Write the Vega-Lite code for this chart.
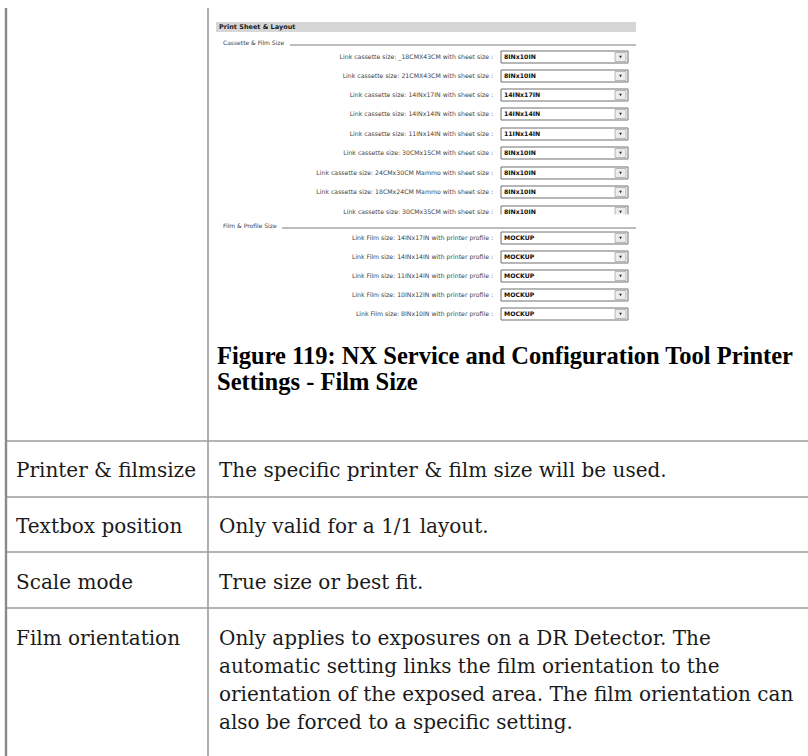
{
  "$schema": "https://vega.github.io/schema/vega-lite/v6.json",
  "width": 808,
  "height": 756,
  "padding": 0,
  "autosize": "none",
  "background": "white",
  "config": {"view": {"stroke": null}},
  "datasets": {
    "tableRules": [
      {"x": 208, "y": 8, "x2": 208, "y2": 756},
      {"x": 6, "y": 441, "x2": 808, "y2": 441},
      {"x": 6, "y": 497, "x2": 808, "y2": 497},
      {"x": 6, "y": 552, "x2": 808, "y2": 552},
      {"x": 6, "y": 608, "x2": 808, "y2": 608}
    ],
    "border": [{"x": 6, "y": 8, "x2": 6, "y2": 756}],
    "header": [{"x": 216, "y": 22, "x2": 636, "y2": 32, "label": "Print Sheet & Layout", "tx": 219, "ty": 27}],
    "groups": [
      {"label": "Cassette & Film Size", "tx": 223, "ty": 43, "x": 290, "x2": 636, "y": 45},
      {"label": "Film & Profile Size", "tx": 223, "ty": 226, "x": 282, "x2": 636, "y": 228}
    ],
    "links": [
      {"label": "Link cassette size: _18CMX43CM with sheet size :", "value": "8INx10IN", "y": 57},
      {"label": "Link cassette size: 21CMX43CM with sheet size :", "value": "8INx10IN", "y": 76},
      {"label": "Link cassette size: 14INx17IN with sheet size :", "value": "14INx17IN", "y": 95},
      {"label": "Link cassette size: 14INx14IN with sheet size :", "value": "14INx14IN", "y": 114},
      {"label": "Link cassette size: 11INx14IN with sheet size :", "value": "11INx14IN", "y": 134},
      {"label": "Link cassette size: 30CMx15CM with sheet size :", "value": "8INx10IN", "y": 153},
      {"label": "Link cassette size: 24CMx30CM Mammo with sheet size :", "value": "8INx10IN", "y": 173},
      {"label": "Link cassette size: 18CMx24CM Mammo with sheet size :", "value": "8INx10IN", "y": 192},
      {"label": "Link cassette size: 30CMx35CM with sheet size :", "value": "8INx10IN", "y": 212},
      {"label": "Link Film size: 14INx17IN with printer profile :", "value": "MOCKUP", "y": 238},
      {"label": "Link Film size: 14INx14IN with printer profile :", "value": "MOCKUP", "y": 257},
      {"label": "Link Film size: 11INx14IN with printer profile :", "value": "MOCKUP", "y": 276},
      {"label": "Link Film size: 10INx12IN with printer profile :", "value": "MOCKUP", "y": 295},
      {"label": "Link Film size: 8INx10IN with printer profile :", "value": "MOCKUP", "y": 314}
    ],
    "mask": [{"x": 214, "x2": 640, "y": 214.5, "y2": 222}],
    "caption": [
      {"text": "Figure 119: NX Service and Configuration Tool Printer", "x": 217, "y": 364},
      {"text": "Settings - Film Size", "x": 217, "y": 390}
    ],
    "cells": [
      {"text": "Printer & filmsize", "x": 16, "y": 477},
      {"text": "Textbox position", "x": 16, "y": 533},
      {"text": "Scale mode", "x": 16, "y": 589},
      {"text": "Film orientation", "x": 16, "y": 645},
      {"text": "The specific printer & film size will be used.", "x": 219, "y": 477},
      {"text": "Only valid for a 1/1 layout.", "x": 219, "y": 533},
      {"text": "True size or best fit.", "x": 219, "y": 589},
      {"text": "Only applies to exposures on a DR Detector. The", "x": 219, "y": 645},
      {"text": "automatic setting links the film orientation to the", "x": 219, "y": 673},
      {"text": "orientation of the exposed area. The film orientation can", "x": 219, "y": 701},
      {"text": "also be forced to a specific setting.", "x": 219, "y": 729}
    ]
  },
  "layer": [
    {
      "data": {"name": "tableRules"},
      "mark": {"type": "rule", "color": "#9c9c9c", "strokeWidth": 1.6},
      "encoding": {
        "x": {"field": "x", "type": "quantitative", "scale": {"domain": [0, 808], "range": [0, 808], "nice": false, "zero": false}, "axis": null},
        "y": {"field": "y", "type": "quantitative", "scale": {"domain": [0, 756], "range": [0, 756], "nice": false, "zero": false}, "axis": null},
        "x2": {"field": "x2"},
        "y2": {"field": "y2"}
      }
    },
    {
      "data": {"name": "border"},
      "mark": {"type": "rule", "color": "#8a8a8a", "strokeWidth": 2.4},
      "encoding": {
        "x": {"field": "x", "type": "quantitative"},
        "y": {"field": "y", "type": "quantitative"},
        "x2": {"field": "x2"},
        "y2": {"field": "y2"}
      }
    },
    {
      "data": {"name": "header"},
      "mark": {"type": "rect", "fill": "#d6d6d6"},
      "encoding": {
        "x": {"field": "x", "type": "quantitative"},
        "y": {"field": "y", "type": "quantitative"},
        "x2": {"field": "x2"},
        "y2": {"field": "y2"}
      }
    },
    {
      "data": {"name": "header"},
      "mark": {"type": "text", "align": "left", "baseline": "middle", "font": "DejaVu Sans", "fontSize": 6.5, "fontWeight": "bold", "color": "#1a1a1a"},
      "encoding": {
        "x": {"field": "tx", "type": "quantitative"},
        "y": {"field": "ty", "type": "quantitative"},
        "text": {"field": "label"}
      }
    },
    {
      "data": {"name": "groups"},
      "mark": {"type": "rule", "color": "#7a7a7a", "strokeWidth": 1},
      "encoding": {
        "x": {"field": "x", "type": "quantitative"},
        "x2": {"field": "x2"},
        "y": {"field": "y", "type": "quantitative"}
      }
    },
    {
      "data": {"name": "groups"},
      "mark": {"type": "text", "align": "left", "baseline": "middle", "font": "DejaVu Sans", "fontSize": 6, "color": "#444"},
      "encoding": {
        "x": {"field": "tx", "type": "quantitative"},
        "y": {"field": "ty", "type": "quantitative"},
        "text": {"field": "label"}
      }
    },
    {
      "data": {"name": "links"},
      "mark": {"type": "text", "align": "right", "baseline": "middle", "font": "DejaVu Sans", "fontSize": 6.2, "color": "#444", "x": 493},
      "encoding": {
        "y": {"field": "y", "type": "quantitative"},
        "text": {"field": "label"}
      }
    },
    {
      "data": {"name": "links"},
      "mark": {"type": "rect", "fill": "white", "stroke": "#6f6f6f", "strokeWidth": 1, "x": 501, "x2": 628, "height": 12},
      "encoding": {
        "y": {"field": "y", "type": "quantitative"}
      }
    },
    {
      "data": {"name": "links"},
      "mark": {"type": "rect", "fill": "#ececec", "stroke": "#a8a8a8", "strokeWidth": 0.8, "x": 615, "x2": 626, "height": 9},
      "encoding": {
        "y": {"field": "y", "type": "quantitative"}
      }
    },
    {
      "data": {"name": "links"},
      "mark": {"type": "point", "shape": "triangle-down", "filled": true, "size": 8, "color": "#222", "opacity": 1, "x": 620.5},
      "encoding": {
        "y": {"field": "y", "type": "quantitative"}
      }
    },
    {
      "data": {"name": "links"},
      "mark": {"type": "text", "align": "left", "baseline": "middle", "font": "DejaVu Sans", "fontSize": 6.2, "fontWeight": "bold", "color": "#111", "x": 504},
      "encoding": {
        "y": {"field": "y", "type": "quantitative"},
        "text": {"field": "value"}
      }
    },
    {
      "data": {"name": "mask"},
      "mark": {"type": "rect", "fill": "white"},
      "encoding": {
        "x": {"field": "x", "type": "quantitative"},
        "x2": {"field": "x2"},
        "y": {"field": "y", "type": "quantitative"},
        "y2": {"field": "y2"}
      }
    },
    {
      "data": {"name": "caption"},
      "mark": {"type": "text", "align": "left", "baseline": "alphabetic", "font": "Liberation Serif", "fontSize": 24.5, "fontWeight": "bold", "color": "#000"},
      "encoding": {
        "x": {"field": "x", "type": "quantitative"},
        "y": {"field": "y", "type": "quantitative"},
        "text": {"field": "text"}
      }
    },
    {
      "data": {"name": "cells"},
      "mark": {"type": "text", "align": "left", "baseline": "alphabetic", "font": "DejaVu Serif", "fontSize": 20, "color": "#1a1a1a"},
      "encoding": {
        "x": {"field": "x", "type": "quantitative"},
        "y": {"field": "y", "type": "quantitative"},
        "text": {"field": "text"}
      }
    }
  ]
}
